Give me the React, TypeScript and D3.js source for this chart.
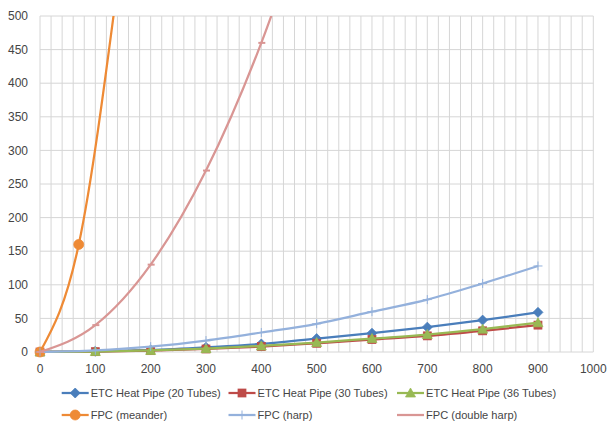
import React from 'react';
import * as d3 from 'd3';

const xValues = [0, 100, 200, 300, 400, 500, 600, 700, 800, 900];
const etc20 = [0, 1, 3, 7, 12, 20, 28, 37, 47.5, 59];
const etc30 = [0, 0.5, 2, 4.5, 8, 13, 18.5, 24, 31.5, 40];
const etc36 = [0, 0.7, 2.3, 5, 9, 14, 20, 26, 34, 43.5];
const harp = [0, 2.5, 8, 17, 29, 42, 60, 78, 102, 128];
const doubleHarpX = [0, 100, 200, 300, 400, 500];
const doubleHarp = [0, 40, 130, 270, 460, 700];
const meanderX = [0, 70, 140];
const meander = [0, 160, 545];
const xTicks = [0, 100, 200, 300, 400, 500, 600, 700, 800, 900, 1000];
const yTicks = [0, 50, 100, 150, 200, 250, 300, 350, 400, 450, 500];
const seriesNames = [
  'ETC Heat Pipe (20 Tubes)',
  'ETC Heat Pipe (30 Tubes)',
  'ETC Heat Pipe (36 Tubes)',
  'FPC (meander)',
  'FPC (harp)',
  'FPC (double harp)',
];

const W = 608;
const H = 423;
const x = d3.scaleLinear().domain([0, 1000]).range([40, 593.3]);
const y = d3.scaleLinear().domain([0, 500]).range([352, 16]);
const FONT = '"Liberation Sans", Arial, sans-serif';
const TXT = '#454545';

type Series = { name: string; xs: number[]; ys: number[]; color: string; marker: string; width: number };

const series: Series[] = [
  { name: seriesNames[0], xs: xValues, ys: etc20, color: '#4a7ebb', marker: 'diamond', width: 2.25 },
  { name: seriesNames[1], xs: xValues, ys: etc30, color: '#be4b48', marker: 'square', width: 2.25 },
  { name: seriesNames[2], xs: xValues, ys: etc36, color: '#98b954', marker: 'triangle', width: 2.25 },
  { name: seriesNames[3], xs: meanderX, ys: meander, color: '#ee8a35', marker: 'circle', width: 2.25 },
  { name: seriesNames[4], xs: xValues, ys: harp, color: '#94b1dc', marker: 'plus', width: 2.25 },
  { name: seriesNames[5], xs: doubleHarpX, ys: doubleHarp, color: '#d99694', marker: 'dash', width: 2.25 },
];

function Marker({ kind, cx, cy, color }: { kind: string; cx: number; cy: number; color: string }) {
  if (kind === 'diamond') {
    const s = 5;
    return <path d={`M${cx},${cy - s}L${cx + s},${cy}L${cx},${cy + s}L${cx - s},${cy}Z`} fill={color} stroke={color} strokeWidth={0.75} />;
  }
  if (kind === 'square') {
    const s = 4;
    return <rect x={cx - s} y={cy - s} width={2 * s} height={2 * s} fill={color} stroke={color} strokeWidth={0.75} />;
  }
  if (kind === 'triangle') {
    const s = 5;
    return <path d={`M${cx},${cy - s}L${cx + s},${cy + s * 0.8}L${cx - s},${cy + s * 0.8}Z`} fill={color} stroke={color} strokeWidth={0.75} />;
  }
  if (kind === 'circle') {
    return <circle cx={cx} cy={cy} r={5} fill={color} stroke={color} strokeWidth={0.75} />;
  }
  if (kind === 'plus') {
    const s = 4.5;
    return <path d={`M${cx - s},${cy}H${cx + s}M${cx},${cy - s}V${cy + s}`} stroke={color} strokeWidth={1} fill="none" />;
  }
  if (kind === 'dash') {
    return <path d={`M${cx - 3},${cy}H${cx + 4}`} stroke={color} strokeWidth={2} fill="none" />;
  }
  return null;
}

export default function App() {
  const line = d3
    .line<[number, number]>()
    .x((d) => x(d[0]))
    .y((d) => y(d[1]))
    .curve(d3.curveMonotoneX);

  const minorX = d3.range(0, 1001, 20);

  const legendCols = [61.7, 228.5, 397];
  const legendRows = [393, 415];

  return (
    <svg width={W} height={H} style={{ position: 'absolute', left: 0, top: 0, background: '#fff' }}>
      <defs>
        <clipPath id="plot">
          <rect x={40} y={16} width={553.3} height={345} />
        </clipPath>
      </defs>
      <rect x={0} y={0} width={W} height={H} fill="#fff" />
      <g>
        {minorX.map((v) => (
          <line key={'vx' + v} x1={x(v)} x2={x(v)} y1={y(500)} y2={y(0)} stroke="#d6d6d6" strokeWidth={1} />
        ))}
        {yTicks.map((v) => (
          <line key={'hy' + v} x1={x(0)} x2={x(1000)} y1={y(v)} y2={y(v)} stroke="#d6d6d6" strokeWidth={1} />
        ))}
      </g>
      <g fontFamily={FONT} fontSize={12} fill={TXT}>
        {yTicks.map((v) => (
          <text key={'yt' + v} x={28} y={y(v)} dy="0.35em" textAnchor="end">
            {v}
          </text>
        ))}
        {xTicks.map((v) => (
          <text key={'xt' + v} x={x(v)} y={369} dy="0.35em" textAnchor="middle">
            {v}
          </text>
        ))}
      </g>
      {series.map((s, i) => {
        const pts: [number, number][] = s.xs.map((xv, j) => [xv, s.ys[j]]);
        return (
          <g key={'s' + i}>
            <path d={line(pts) || ''} fill="none" stroke={s.color} strokeWidth={s.width} clipPath="url(#plot)" strokeLinejoin="round" />
            {pts
              .filter((p) => p[1] <= 500)
              .map((p, j) => (
                <Marker key={j} kind={s.marker} cx={x(p[0])} cy={y(p[1])} color={s.color} />
              ))}
          </g>
        );
      })}
      <g fontFamily={FONT} fontSize={11.1} fill={TXT}>
        {series.map((s, i) => {
          const col = i % 3;
          const row = Math.floor(i / 3);
          const lx = legendCols[col];
          const ly = legendRows[row];
          return (
            <g key={'lg' + i}>
              <line x1={lx} x2={lx + 27} y1={ly} y2={ly} stroke={s.color} strokeWidth={2.25} />
              <Marker kind={s.marker} cx={lx + 13.5} cy={ly} color={s.color} />
              <text x={lx + 29} y={ly} dy="0.35em">
                {s.name}
              </text>
            </g>
          );
        })}
      </g>
    </svg>
  );
}
